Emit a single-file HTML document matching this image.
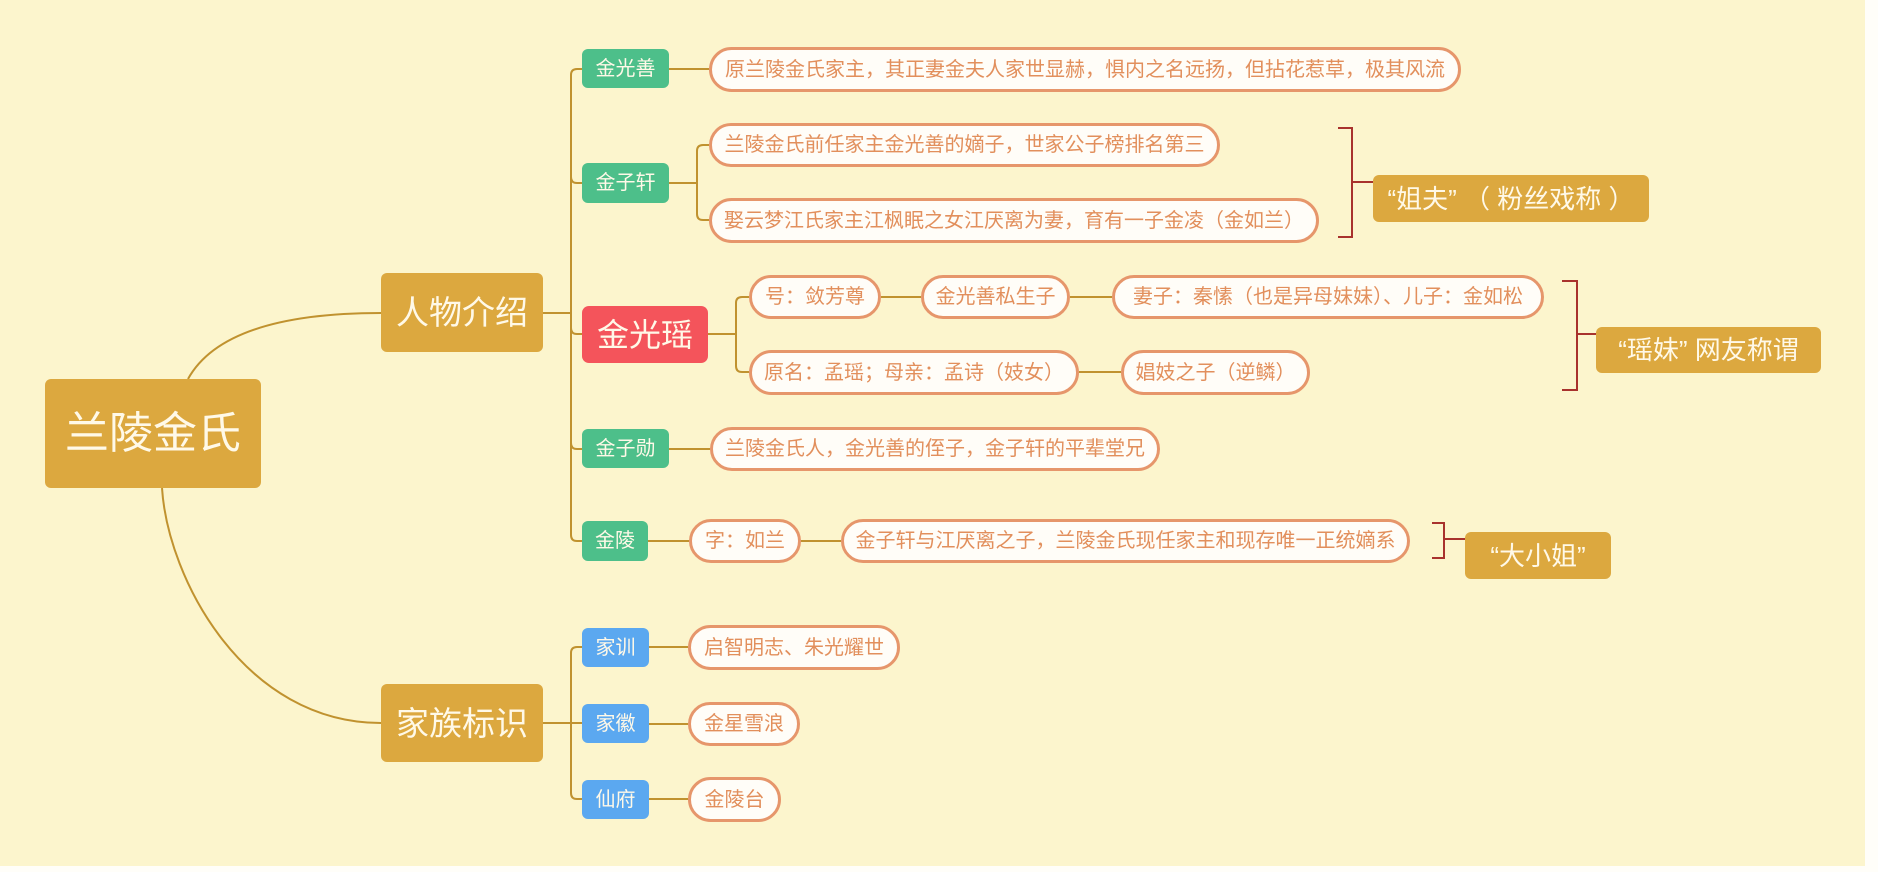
<!DOCTYPE html>
<html>
<head>
<meta charset="utf-8">
<style>
  html,body{margin:0;padding:0;}
  body{width:1878px;height:872px;background:#fffef9;position:relative;overflow:hidden;
       font-family:"Liberation Sans","Noto Sans CJK SC",sans-serif;}
  #bg{position:absolute;left:0;top:0;width:1865px;height:866px;background:#fcf5cd;}
  svg{position:absolute;left:0;top:0;}
  .n{position:absolute;box-sizing:border-box;display:flex;align-items:center;justify-content:center;
     white-space:nowrap;line-height:1;color:#fff9e8;border-radius:6px;}
  .gold{background:#dca83f;}
  .green{background:#4dbf8a;font-size:20px;}
  .blue{background:#5ba8f0;font-size:20px;}
  .red{background:#f4545b;font-size:32px;border-radius:7px;}
  .pill{position:absolute;box-sizing:border-box;display:flex;align-items:center;justify-content:center;
     white-space:nowrap;line-height:1;background:#fffdf8;border:3px solid #e6966b;border-radius:23px;
     color:#e28f5c;font-size:20px;}
  .lab{font-size:26px;}
</style>
</head>
<body>
<div id="bg"></div>
<svg width="1878" height="872" viewBox="0 0 1878 872">
  <g fill="none" stroke="#c0922f" stroke-width="2">
    <path d="M188,379 C215,330 290,313 381,313"/>
    <path d="M162,488 C168,580 245,723 381,723"/>
    <path d="M543,313 H571"/>
    <path d="M582,69 H577 Q571,69 571,75 V535 Q571,541 577,541 H582"/>
    <path d="M571,177 Q571,183 577,183 H582"/>
    <path d="M571,328 Q571,334 577,334 H582"/>
    <path d="M571,443 Q571,449 577,449 H582"/>
    <path d="M543,723 H582"/>
    <path d="M582,647 H577 Q571,647 571,653 V793 Q571,799 577,799 H582"/>
    <path d="M669,69 H709"/>
    <path d="M669,183 H697"/>
    <path d="M709,145 H703 Q697,145 697,151 V214 Q697,220 703,220 H709"/>
    <path d="M708,334 H736"/>
    <path d="M749,297 H742 Q736,297 736,303 V366 Q736,372 742,372 H749"/>
    <path d="M881,297 H921"/>
    <path d="M1070,297 H1112"/>
    <path d="M1079,372 H1121"/>
    <path d="M669,449 H710"/>
    <path d="M648,541 H689"/>
    <path d="M801,541 H841"/>
    <path d="M649,647 H688"/>
    <path d="M649,724 H688"/>
    <path d="M649,799 H688"/>
  </g>
  <g fill="none" stroke="#a8322d" stroke-width="2">
    <path d="M1338,128 H1352 V237 H1338"/>
    <path d="M1352,182 H1373"/>
    <path d="M1562,281 H1577 V390 H1562"/>
    <path d="M1577,334 H1596"/>
    <path d="M1432,523 H1444 V558 H1432"/>
    <path d="M1444,539 H1465"/>
  </g>
</svg>

<div class="n gold" style="left:45px;top:379px;width:216px;height:109px;font-size:44px;">兰陵金氏</div>
<div class="n gold" style="left:381px;top:273px;width:162px;height:79px;font-size:33px;">人物介绍</div>
<div class="n gold" style="left:381px;top:684px;width:162px;height:78px;font-size:33px;">家族标识</div>

<div class="n green" style="left:582px;top:49px;width:87px;height:39px;">金光善</div>
<div class="n green" style="left:582px;top:163px;width:87px;height:40px;">金子轩</div>
<div class="n red" style="left:582px;top:306px;width:126px;height:57px;">金光瑶</div>
<div class="n green" style="left:582px;top:429px;width:87px;height:39px;">金子勋</div>
<div class="n green" style="left:582px;top:521px;width:66px;height:40px;">金陵</div>
<div class="n blue" style="left:582px;top:628px;width:67px;height:39px;">家训</div>
<div class="n blue" style="left:582px;top:704px;width:67px;height:39px;">家徽</div>
<div class="n blue" style="left:582px;top:780px;width:67px;height:39px;">仙府</div>

<div class="pill" style="left:709px;top:47px;width:752px;height:45px;">原兰陵金氏家主，其正妻金夫人家世显赫，惧内之名远扬，但拈花惹草，极其风流</div>
<div class="pill" style="left:709px;top:123px;width:511px;height:44px;">兰陵金氏前任家主金光善的嫡子，世家公子榜排名第三</div>
<div class="pill" style="left:709px;top:198px;width:610px;height:45px;">娶云梦江氏家主江枫眠之女江厌离为妻，育有一子金凌（金如兰）</div>
<div class="pill" style="left:749px;top:275px;width:132px;height:44px;">号：敛芳尊</div>
<div class="pill" style="left:921px;top:275px;width:149px;height:44px;">金光善私生子</div>
<div class="pill" style="left:1112px;top:275px;width:432px;height:44px;">妻子：秦愫（也是异母妹妹）、儿子：金如松</div>
<div class="pill" style="left:749px;top:350px;width:330px;height:45px;">原名：孟瑶；母亲：孟诗（妓女）</div>
<div class="pill" style="left:1121px;top:350px;width:189px;height:45px;">娼妓之子（逆鳞）</div>
<div class="pill" style="left:710px;top:427px;width:450px;height:44px;">兰陵金氏人，金光善的侄子，金子轩的平辈堂兄</div>
<div class="pill" style="left:689px;top:519px;width:112px;height:44px;">字：如兰</div>
<div class="pill" style="left:841px;top:519px;width:569px;height:44px;">金子轩与江厌离之子，兰陵金氏现任家主和现存唯一正统嫡系</div>
<div class="pill" style="left:688px;top:625px;width:212px;height:45px;">启智明志、朱光耀世</div>
<div class="pill" style="left:688px;top:702px;width:112px;height:44px;">金星雪浪</div>
<div class="pill" style="left:688px;top:777px;width:93px;height:45px;">金陵台</div>

<div class="n gold lab" style="left:1373px;top:175px;width:276px;height:47px;">“姐夫” （ 粉丝戏称 ）</div>
<div class="n gold lab" style="left:1596px;top:327px;width:225px;height:46px;">“瑶妹” 网友称谓</div>
<div class="n gold lab" style="left:1465px;top:532px;width:146px;height:47px;">“大小姐”</div>
</body>
</html>
